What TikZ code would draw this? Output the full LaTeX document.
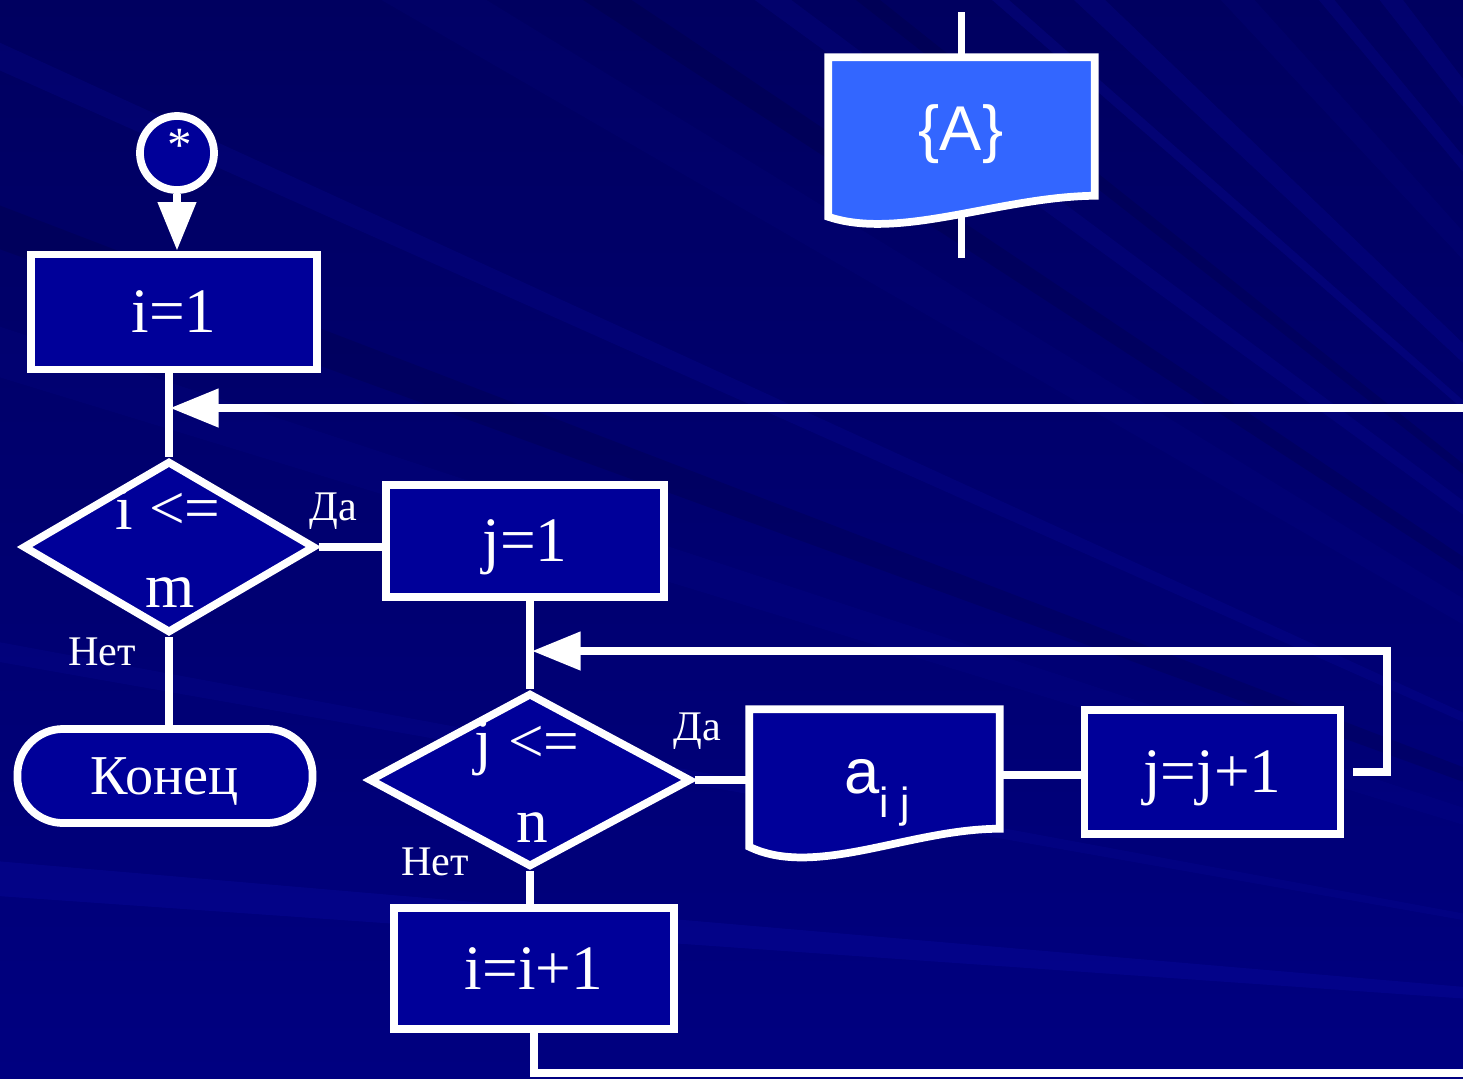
\documentclass[tikz,border=0pt]{standalone}
\usepackage{fontspec}
\setmainfont{Liberation Serif}
\newfontfamily\arialfont{Liberation Sans}
\usetikzlibrary{shapes.geometric, arrows.meta, backgrounds}

\definecolor{bgtop}{RGB}{0,0,96}
\definecolor{bgbottom}{RGB}{0,0,128}
\definecolor{rayblue}{RGB}{20,20,200}
\definecolor{boxblue}{RGB}{0,0,153}
\definecolor{docblue}{RGB}{51,102,255}

\tikzset{
	flow/.style={white, line width=2.2pt},
	block/.style={rectangle, draw=white, line width=2.2pt, fill=boxblue, text=white, inner sep=0pt, text depth=0pt, font=\fontsize{18}{18}\selectfont},
	test/.style={diamond, draw=white, line width=2.2pt, fill=boxblue, inner sep=0pt},
	term/.style={block, rounded corners=13pt, font=\fontsize{16}{16}\selectfont},
	doc/.style={rectangle, inner sep=0pt},
	word/.style={text=white, anchor=base, inner sep=0pt, font=\fontsize{18}{18}\selectfont},
	tag/.style={word, font=\fontsize{12}{12}\selectfont},
	bigtip/.style={-{Triangle[width=10.5pt,length=13.8pt]}}
}

\begin{document}
\begin{tikzpicture}[x=0.01cm, y=-0.01cm]

	\useasboundingbox (0,0) rectangle (1463,1078);

	% blocks
	\node[circle, draw=white, line width=2.2pt, fill=boxblue, minimum size=0.74cm, inner sep=0pt] (start) at (177,153) {};
	\node[word, font=\fontsize{14}{14}\selectfont] at (180,161) {*};

	\node[block, minimum width=2.86cm, minimum height=1.15cm] (init) at (174,312) {i=1};

	\node[test, minimum width=2.92cm, minimum height=1.72cm] (d1) at (169,547) {};
	\node[word] at (168,529) {i <=};
	\node[word] at (170,607) {m};

	\node[block, minimum width=2.78cm, minimum height=1.12cm] (j1) at (525,541) {j=1};
	\node[term, minimum width=2.95cm, minimum height=0.94cm] (stop) at (165,776) {Конец};

	\node[test, minimum width=3.22cm, minimum height=1.74cm] (d2) at (530,780) {};
	\node[word] at (527,762) {j <=};
	\node[word] at (532,842) {n};

	\node[doc, minimum width=2.49cm, minimum height=1.30cm] (aij) at (874.5,775) {};
	\node[word, font=\arialfont\fontsize{18}{18}\selectfont] at (877,793) {a\raisebox{-0.24cm}{\fontsize{12}{12}\selectfont i j}};

	\node[block, minimum width=2.56cm, minimum height=1.24cm] (jj1) at (1212.5,772) {j=j+1};
	\node[block, minimum width=2.80cm, minimum height=1.21cm] (ii1) at (534,968.5) {i=i+1};

	\node[doc, minimum width=2.65cm, minimum height=1.50cm] (dataA) at (961.5,133) {};
	\node[word, font=\arialfont\fontsize{18}{18}\selectfont] at (961,150) {\{A\}};

	\node[tag] at (333,520) {Да};
	\node[tag] at (102,665) {Нет};
	\node[tag] at (697,740) {Да};
	\node[tag] at (435,875) {Нет};

	% background and document outlines
	\begin{scope}[on background layer]
		\shade[top color=bgtop, bottom color=bgbottom] (0,0) rectangle (1463,1078);
		\begin{scope}
			\clip (0,0) rectangle (1463,1078);
			\coordinate (glow) at (2200,1050);
			\foreach \a/\w/\o in {184/0.9/0.16, 190/0.5/0.1, 197/1.2/0.07, 204/0.6/0.12, 210/1.5/0.06,
				216/0.7/0.12, 221/0.4/0.16, 223/0.8/0.14, 227/1.0/0.07, 230/0.5/0.14, 232/0.8/0.14}
				\fill[rayblue, opacity=\o] (glow) -- +(\a:3300) -- +(\a+\w:3300) -- cycle;
			\foreach \a/\w in {200/1.0, 213/0.8, 218/0.5}
				\fill[black, opacity=0.1] (glow) -- +(\a:3300) -- +(\a+\w:3300) -- cycle;
		\end{scope}

		\draw[flow, fill=docblue] ([yshift=-0.08cm]dataA.south west) .. controls +(71,24) and +(-95,1) .. ([yshift=0.13cm]dataA.south east)
			-- (dataA.north east) -- (dataA.north west) -- cycle;
		\draw[flow, fill=boxblue] ([yshift=-0.06cm]aij.south west) .. controls +(66,32) and +(-90,0) .. ([yshift=0.12cm]aij.south east)
			-- (aij.north east) -- (aij.north west) -- cycle;
	\end{scope}

	% connectors
	\coordinate (inA) at (961.5,12);
	\coordinate (outA) at (961.5,258);
	\coordinate (jn1) at (170,408);
	\coordinate (back1) at (1463,408);
	\coordinate (jn2) at (532,651);
	\coordinate (back2) at (1387,651);
	\coordinate (exit) at (1463,1073);

	\draw[flow] (inA) -- (dataA.north);
	\draw[flow] ([yshift=-0.08cm]dataA.south) -- (outA);

	\draw[flow, bigtip] (start.south) -- (start.south |- init.north);
	\draw[flow] (d1.north |- init.south) -- (d1.north);
	\draw[flow, bigtip] (back1) -- (jn1);
	\draw[flow] (d1.east) -- (d1.east -| j1.west);
	\draw[flow] (d1.south) -- (d1.south |- stop.north);
	\draw[flow] (d2.north |- j1.south) -- (d2.north);
	\draw[flow, bigtip] ([xshift=0.09cm]jj1.east) -- (back2 |- jj1.east) -- (back2) -- (jn2);
	\draw[flow] (d2.east) -- (d2.east -| aij.west);
	\draw[flow] (aij.east) -- (aij.east -| jj1.west);
	\draw[flow] (d2.south) -- (d2.south |- ii1.north);
	\draw[flow] (ii1.south) |- (exit);

\end{tikzpicture}
\end{document}
